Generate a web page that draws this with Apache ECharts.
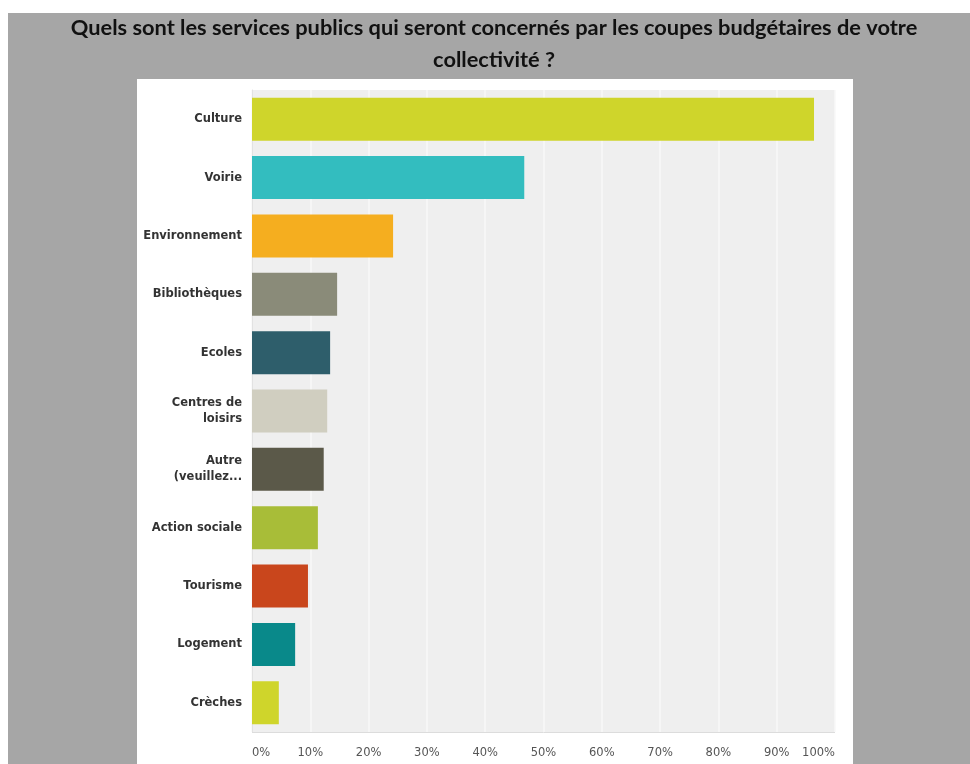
<!DOCTYPE html>
<html>
<head>
<meta charset="utf-8">
<script src="https://cdn.jsdelivr.net/npm/echarts@6/dist/echarts.min.js"></script>
<style>html,body{margin:0;padding:0;background:#fff}#c{width:970px;height:764px}</style>
</head>
<body>
<div id="c"></div>
<script>
const titleLines = ['Quels sont les services publics qui seront concernés par les coupes budgétaires de votre', 'collectivité ?'];
const categories = ['Culture', 'Voirie', 'Environnement', 'Bibliothèques', 'Ecoles', 'Centres de\nloisirs', 'Autre\n(veuillez...', 'Action sociale', 'Tourisme', 'Logement', 'Crèches'];
const values = [96.4, 46.7, 24.2, 14.6, 13.4, 12.9, 12.3, 11.3, 9.6, 7.4, 4.6];
const palette = ['#cfd52b', '#33bdbf', '#f5ae1f', '#8a8b79', '#2e5e6b', '#d0cec0', '#5b5949', '#a8bd38', '#c9461c', '#09898a', '#cfd52b'];

const chart = echarts.init(document.getElementById('c'), null, {renderer: 'canvas'});
chart.setOption({
  backgroundColor: '#ffffff',
  animation: false,
  graphic: [
    {type: 'rect', z: -10, silent: true, shape: {x: 8, y: 13, width: 962, height: 751}, style: {fill: '#a6a6a6'}},
    {type: 'rect', z: -9, silent: true, shape: {x: 137, y: 79, width: 716, height: 685}, style: {fill: '#ffffff'}},
    {type: 'line', z: 10, silent: true, shape: {x1: 252, y1: 732.5, x2: 835, y2: 732.5}, style: {stroke: '#dcdcdc', lineWidth: 1}},
    {type: 'text', z: 10, silent: true, x: 494, y: 44, style: {
      text: titleLines.join('\n'), align: 'center', verticalAlign: 'middle',
      fontFamily: 'Lato', fontWeight: 'bold', fontSize: 21.8, lineHeight: 32, fill: '#111111'
    }}
  ],
  grid: {left: 252, right: 135, top: 90, bottom: 32, show: true, backgroundColor: '#efefef', borderWidth: 0},
  xAxis: {
    type: 'value', min: 0, max: 100, interval: 10,
    axisLine: {show: false},
    axisTick: {show: false},
    splitLine: {show: true, lineStyle: {color: '#f9f9f9', width: 1.5}},
    axisLabel: {formatter: '{value}%', color: '#555', fontFamily: 'DejaVu Sans', fontSize: 11.5, margin: 15, alignMinLabel: 'left', alignMaxLabel: 'right'}
  },
  yAxis: {
    type: 'category', data: categories, inverse: true,
    axisLine: {show: true, onZero: false, lineStyle: {color: '#e2e2e2', width: 1}},
    axisTick: {show: false},
    splitLine: {show: false},
    axisLabel: {color: '#333', fontFamily: 'DejaVu Sans', fontWeight: 'bold', fontSize: 11.5, lineHeight: 16, margin: 10}
  },
  series: [{
    type: 'bar',
    barWidth: 43,
    data: values.map((v, i) => ({value: v, itemStyle: {color: palette[i]}})),
    itemStyle: {borderWidth: 0}
  }]
});
</script>
</body>
</html>
